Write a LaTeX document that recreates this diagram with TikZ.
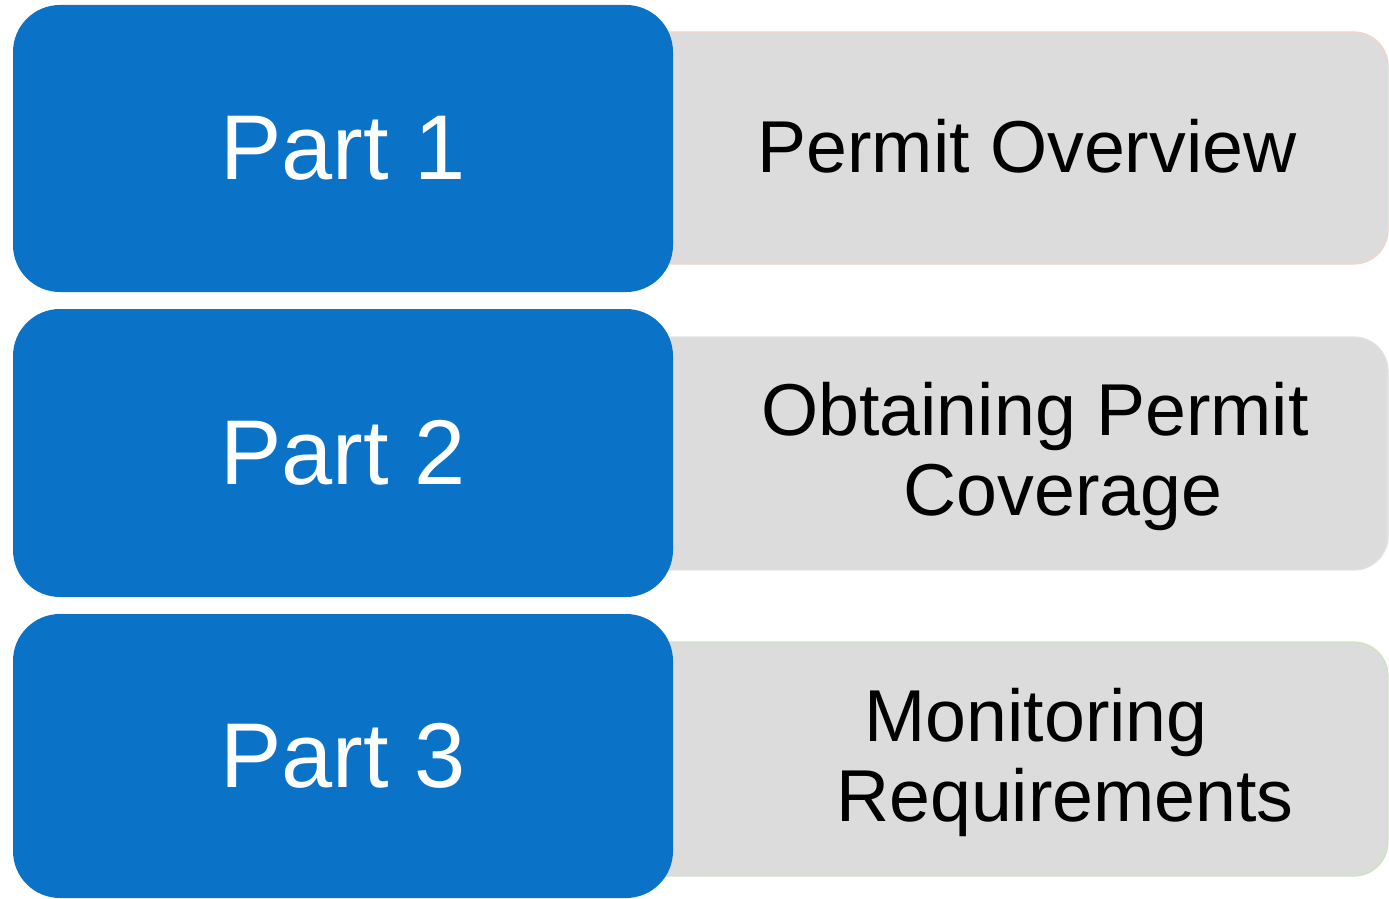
\documentclass[tikz,border=0pt]{standalone}
\usepackage{fontspec}
\setmainfont{Liberation Sans}
\definecolor{partblue}{HTML}{0A73C8}
\definecolor{boxgray}{HTML}{DCDCDC}
\definecolor{edgepink}{HTML}{F6D3C8}
\definecolor{edgegray}{HTML}{E2E2E2}
\definecolor{edgegreen}{HTML}{CDE6C0}
\tikzset{
  partbox/.style={draw=none, fill=partblue, rounded corners=47pt, minimum width=660pt, inner sep=0pt, text=white, font=\fontsize{92}{110}\selectfont},
  graybox/.style={fill=boxgray, rounded corners=34pt, minimum width=760pt, inner sep=0pt, line width=1.2pt},
  graytext/.style={align=center, text=black, inner sep=0pt, font=\fontsize{73.5}{80}\selectfont},
}
\begin{document}
\begin{tikzpicture}[x=1pt,y=-1pt]
\useasboundingbox (0,0) rectangle (1389,899);
% gray boxes (left part hidden behind blue boxes)
\node[graybox, draw=edgepink, minimum height=232pt] (g1) at (1008,148) {};
\node[graybox, draw=edgegray, minimum height=233pt] (g2) at (1008,453.5) {};
\node[graybox, draw=edgegreen, minimum height=234pt] (g3) at (1008,759) {};
% blue boxes
\node[partbox, minimum height=287pt] (p1) at (343,148.5) {Part 1};
\node[partbox, minimum height=288pt] (p2) at (343,453) {Part 2};
\node[partbox, minimum height=284pt] (p3) at (343,756) {Part 3};
% texts
\node[graytext] (t1) at (1027,146) {Permit Overview};
\node[graytext] (t2) at (1049,456) {Obtaining Permit\hspace*{28pt}\\\hspace*{28pt}Coverage};
\node[graytext] (t3) at (1050.5,762) {Monitoring\hspace*{29pt}\\\hspace*{29pt}Requirements};
\end{tikzpicture}
\end{document}
